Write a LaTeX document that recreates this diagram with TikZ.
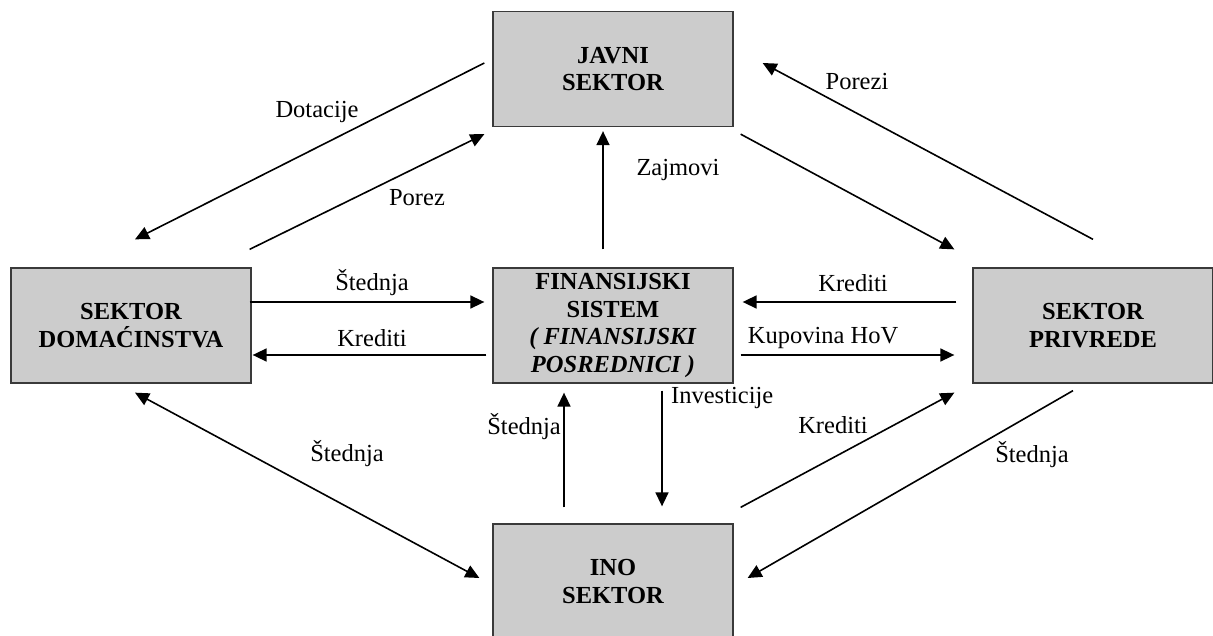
\documentclass[tikz,border=0pt]{standalone}
\usepackage{fontspec}
\setmainfont{Liberation Serif}
\usetikzlibrary{arrows.meta}
\definecolor{boxfill}{HTML}{CCCCCC}
\definecolor{boxline}{HTML}{3A3A3A}
\begin{document}
\begin{tikzpicture}[x=1pt,y=-1pt,
  sector/.style={draw=boxline,fill=boxfill,line width=1.3pt,rectangle,
    minimum width=240pt,minimum height=115pt,inner sep=0pt,align=center,
    font=\fontsize{24.5}{27.5}\selectfont\bfseries},
  flow/.style={line width=1.6pt,-{Triangle[length=14pt,width=13pt]}},
  both/.style={line width=1.6pt,{Triangle[length=14pt,width=13pt]}-{Triangle[length=14pt,width=13pt]}},
  lbl/.style={font=\fontsize{24.5}{27.5}\selectfont,inner sep=0pt}]
\useasboundingbox (0,0) rectangle (1213,636);
\clip (0,0) rectangle (1213,636);

% sectors
\node[sector] (javni) at (613,69) {JAVNI\\SEKTOR};
\node[sector] (dom)   at (131,325.5) {SEKTOR\\DOMAĆINSTVA};
\node[sector] (fin)   at (613,325.5) {FINANSIJSKI\\SISTEM\\\textit{( FINANSIJSKI}\\\textit{POSREDNICI )}};
\node[sector] (priv)  at (1093,325.5) {SEKTOR\\PRIVREDE};
\node[sector] (ino)   at (613,581.5) {INO\\SEKTOR};

% flows around the public sector
\draw[flow] ([shift={(-8,-6)}]javni.west) -- ([shift={(4,-28)}]dom.north);
\draw[flow] ([shift={(-2,-18)}]dom.north east) -- ([shift={(-8,7)}]javni.south west);
\draw[flow] ([shift={(0,-28)}]priv.north) -- ([shift={(29,-6)}]javni.east);
\draw[flow] ([shift={(7,7)}]javni.south east) -- ([shift={(-18,-18)}]priv.north west);
\draw[flow] ([shift={(-10,-18)}]fin.north) -- ([shift={(-10,4)}]javni.south);

% flows through the financial system
\draw[flow] ([shift={(-2,-23.5)}]dom.east) -- ([shift={(-8,-23.5)}]fin.west);
\draw[flow] ([shift={(-6,29.5)}]fin.west) -- ([shift={(1,29.5)}]dom.east);
\draw[flow] ([shift={(-16,-23.5)}]priv.west) -- ([shift={(9,-23.5)}]fin.east);
\draw[flow] ([shift={(7,29.5)}]fin.east) -- ([shift={(-18,29.5)}]priv.west);

% flows with the foreign sector
\draw[both] ([shift={(4,9)}]dom.south) -- ([shift={(-13,-3.5)}]ino.west);
\draw[flow] ([shift={(-49,-16)}]ino.north) -- ([shift={(-49,9)}]fin.south);
\draw[flow] ([shift={(49,7)}]fin.south) -- ([shift={(49,-17)}]ino.north);
\draw[flow] ([shift={(7,-16)}]ino.north east) -- ([shift={(-18,9)}]priv.south west);
\draw[flow] ([shift={(-20,7)}]priv.south) -- ([shift={(14,-3.5)}]ino.east);

% labels
\node[lbl] (l1)  at (317,112) {Dotacije};
\node[lbl] (l2)  at (417,198) {Porez};
\node[lbl] (l3)  at (857,82)  {Porezi};
\node[lbl] (l4)  at (678,170) {Zajmovi};
\node[lbl] (l5)  at (372,283) {Štednja};
\node[lbl] (l6)  at (372,338) {Krediti};
\node[lbl] (l7)  at (853,283) {Krediti};
\node[lbl] (l8)  at (823,338) {Kupovina HoV};
\node[lbl] (l9)  at (347,454) {Štednja};
\node[lbl,anchor=east] (l10) at (561,427) {Štednja};
\node[lbl,anchor=west] (l11) at (671,398) {Investicije};
\node[lbl] (l12) at (833,425) {Krediti};
\node[lbl] (l13) at (1032,455) {Štednja};
\end{tikzpicture}
\end{document}
